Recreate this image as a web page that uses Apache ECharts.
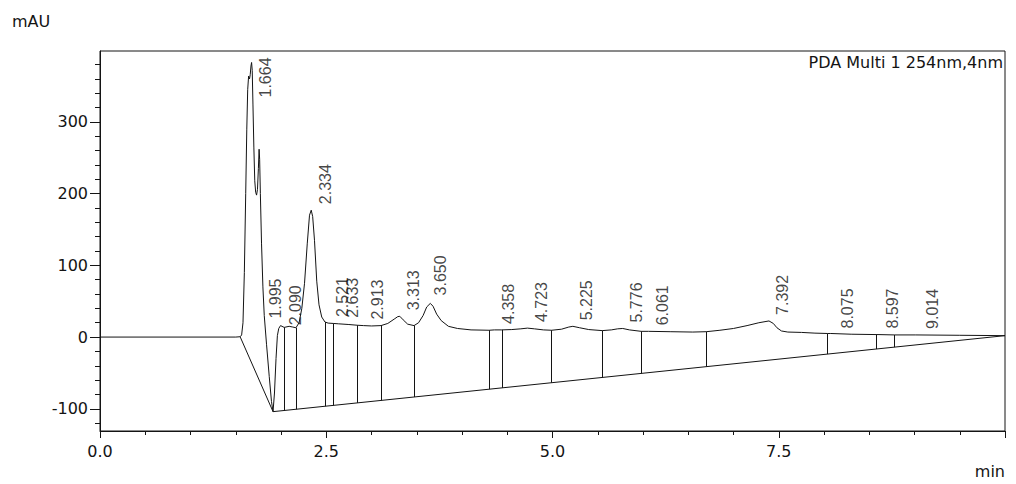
<!DOCTYPE html>
<html>
<head>
<meta charset="utf-8">
<script src="https://cdn.jsdelivr.net/npm/echarts@6/dist/echarts.min.js"></script>
<style>
html,body{margin:0;padding:0;background:#fff;}
#chart{width:1016px;height:484px;}
</style>
</head>
<body>
<div id="chart"></div>
<script>
// ---------- data ----------
// chromatogram trace: [time (min), signal (mAU)]
const chromatogram = [
  [0,0],[1.50,0],[1.55,0.5],[1.565,3],[1.58,20],[1.595,90],[1.61,200],[1.622,290],[1.632,345],
  [1.642,364],[1.652,360],[1.66,366],[1.668,378],[1.675,383],[1.682,372],[1.69,325],[1.70,265],
  [1.71,218],[1.72,202],[1.73,198],[1.74,206],[1.75,235],[1.758,262],[1.764,248],[1.772,200],
  [1.785,130],[1.80,70],[1.815,30],[1.84,-10],[1.87,-55],[1.895,-90],[1.912,-104],[1.928,-78],
  [1.945,-30],[1.96,2],[1.975,12],[1.995,16],[2.035,13.5],[2.09,15],[2.13,14],[2.165,13],
  [2.20,20],[2.23,40],[2.26,75],[2.29,130],[2.315,170],[2.334,177],[2.35,168],[2.37,135],
  [2.395,78],[2.42,45],[2.45,28],[2.486,21],[2.521,19.5],[2.578,19],[2.633,18.5],[2.75,17.5],
  [2.843,16.5],[2.913,16],[3.0,15.5],[3.105,16],[3.18,19],[3.25,25],[3.29,28.5],[3.313,29],
  [3.35,24],[3.40,18],[3.47,16],[3.52,20],[3.57,30],[3.61,42],[3.65,47],[3.68,43],[3.72,32],
  [3.77,23],[3.85,15],[3.95,12],[4.10,10],[4.30,9.5],[4.358,10],[4.44,10],[4.55,10.5],
  [4.65,11.5],[4.723,12.5],[4.80,11.5],[4.90,10],[4.99,9.5],[5.10,11],[5.18,14],[5.225,15],
  [5.30,13],[5.40,10.5],[5.55,9],[5.65,10],[5.72,11.5],[5.776,12],[5.85,10],[5.98,8],
  [6.061,8],[6.30,7.5],[6.55,7],[6.70,7.5],[6.85,9.5],[7.0,12],[7.15,16],[7.28,20],
  [7.392,22.5],[7.44,19],[7.48,13],[7.53,8.5],[7.60,7],[7.75,6.5],[7.90,5.5],[8.04,5],
  [8.075,5],[8.30,4],[8.575,3.5],[8.597,3.5],[8.777,3],[9.014,3],[9.50,2.5],[10.0,2]
];

// peak retention times (labels) and apex heights (mAU)
const peakLabels  = ['1.664','1.995','2.090','2.334','2.521','2.633','2.913','3.313','3.650',
                     '4.358','4.723','5.225','5.776','6.061','7.392','8.075','8.597','9.014'];
const peakTimes   = [1.664,1.995,2.090,2.334,2.521,2.633,2.913,3.313,3.650,
                     4.358,4.723,5.225,5.776,6.061,7.392,8.075,8.597,9.014];
const peakHeights = [383,16,15,177,19.5,18.5,16,29,47,10,12.5,15,12,8,22.5,5,3.5,3];

// integration baseline vertices: time (min) and level (mAU)
const baselineTimes  = [1.55, 1.912, 10.0];
const baselineLevels = [0, -104, 2];

// peak boundary times (vertical drop lines)
const boundaryTimes = [2.035,2.165,2.486,2.578,2.843,3.105,3.47,4.30,4.44,4.99,5.55,5.98,6.70,8.04,8.575,8.777];

// axis ticks
const xMajorTicks = [0, 2.5, 5, 7.5, 10];
const xTickLabels = [0, 2.5, 5, 7.5];
const xMinorTicks = [0.5,1,1.5,2,3,3.5,4,4.5,5.5,6,6.5,7,8,8.5,9,9.5];
const yMajorTicks = [-100, 0, 100, 200, 300];
const yMinorTicks = [-120,-80,-60,-40,-20,20,40,60,80,120,140,160,180,220,240,260,280,320,340,360,380];

// ---------- layout / style ----------
const INK = '#141414';
const AXIS_FONT = 'DejaVu Sans';
const LABEL_FONT = 'Liberation Sans';
// screen offsets [right, down] of each label's start point from its peak apex
const defaultLabelShift = [14, -6];
const labelShiftOverrides = {
  '1.664': [15, 35],
  '1.995': [-5, -7],
  '2.090': [6, -1],
  '3.650': [10, -8],
  '8.075': [17, -5],
  '9.014': [17, -6]
};

function lookup(xs, ys, t) {
  for (let i = 0; i < xs.length - 1; i++) {
    if (t >= xs[i] && t <= xs[i + 1]) {
      const f = (t - xs[i]) / (xs[i + 1] - xs[i]);
      return ys[i] + f * (ys[i + 1] - ys[i]);
    }
  }
  return ys[ys.length - 1];
}
const traceT = chromatogram.map(p => p[0]);
const traceV = chromatogram.map(p => p[1]);

const lineData = [];
for (let i = 0; i < baselineTimes.length - 1; i++) {
  lineData.push({ coords: [[baselineTimes[i], baselineLevels[i]], [baselineTimes[i + 1], baselineLevels[i + 1]]] });
}
boundaryTimes.forEach(t => {
  lineData.push({ coords: [[t, lookup(traceT, traceV, t)], [t, lookup(baselineTimes, baselineLevels, t)]] });
});

const labelData = peakTimes.map((t, i) => {
  const s = labelShiftOverrides[peakLabels[i]] || defaultLabelShift;
  // label is rotated 90deg, so its offset is given in the rotated frame
  return {
    value: [t, peakHeights[i]],
    name: peakLabels[i],
    label: { offset: [-s[1], s[0]] }
  };
});

const Y_MIN = -131, Y_MAX = 399;
const axisText = { fontFamily: AXIS_FONT, fontSize: 16, color: INK };

const chart = echarts.init(document.getElementById('chart'), null, { renderer: 'svg' });
chart.setOption({
  animation: false,
  backgroundColor: '#ffffff',
  title: [
    { text: 'mAU', left: 12, top: 13, padding: 0, textStyle: Object.assign({ fontWeight: 'normal', lineHeight: 16 }, axisText) },
    { text: 'PDA Multi 1 254nm,4nm', right: 13, top: 54, padding: 0, textStyle: Object.assign({ fontWeight: 'normal', lineHeight: 16 }, axisText) },
    { text: 'min', right: 11, top: 463, padding: 0, textStyle: Object.assign({ fontWeight: 'normal', lineHeight: 16 }, axisText) }
  ],
  grid: { left: 100, right: 11, top: 51, bottom: 53, show: true, borderColor: INK, borderWidth: 1, outerBoundsMode: 'none' },
  xAxis: [
    {
      type: 'value', min: 0, max: 10, position: 'bottom',
      axisLine: { show: true, onZero: false, lineStyle: { color: INK, width: 1 } },
      axisTick: { show: true, customValues: xMajorTicks, length: 7, lineStyle: { color: INK, width: 1 } },
      axisLabel: { show: true, customValues: xTickLabels, margin: 12, formatter: v => Number(v).toFixed(1), ...axisText },
      splitLine: { show: false }
    },
    {
      type: 'value', min: 0, max: 10, position: 'bottom',
      axisLine: { show: false, onZero: false },
      axisTick: { show: true, customValues: xMinorTicks, length: 4, lineStyle: { color: INK, width: 1 } },
      axisLabel: { show: false },
      splitLine: { show: false }
    }
  ],
  yAxis: [
    {
      type: 'value', min: Y_MIN, max: Y_MAX, position: 'left',
      axisLine: { show: true, onZero: false, lineStyle: { color: INK, width: 1 } },
      axisTick: { show: true, customValues: yMajorTicks, length: 10, lineStyle: { color: INK, width: 1 } },
      axisLabel: { show: true, customValues: yMajorTicks, margin: 12, ...axisText },
      splitLine: { show: false }
    },
    {
      type: 'value', min: Y_MIN, max: Y_MAX, position: 'left',
      axisLine: { show: false, onZero: false },
      axisTick: { show: true, customValues: yMinorTicks, length: 5, lineStyle: { color: INK, width: 1 } },
      axisLabel: { show: false },
      splitLine: { show: false }
    }
  ],
  series: [
    {
      type: 'lines', coordinateSystem: 'cartesian2d', xAxisIndex: 0, yAxisIndex: 0,
      data: lineData, silent: true, z: 2,
      lineStyle: { color: INK, width: 1, opacity: 1 }
    },
    {
      type: 'line', xAxisIndex: 0, yAxisIndex: 0, data: chromatogram,
      showSymbol: false, symbol: 'none', smooth: false, z: 3,
      lineStyle: { color: INK, width: 1 }
    },
    {
      type: 'scatter', xAxisIndex: 0, yAxisIndex: 0, data: labelData,
      symbol: 'circle', symbolSize: 1, silent: true, z: 4,
      itemStyle: { color: 'rgba(255,255,255,0)' },
      label: {
        show: true, position: 'inside', rotate: 90, align: 'left', verticalAlign: 'middle',
        formatter: p => p.name, fontFamily: LABEL_FONT, fontSize: 16, color: INK
      }
    }
  ]
});
</script>
</body>
</html>
